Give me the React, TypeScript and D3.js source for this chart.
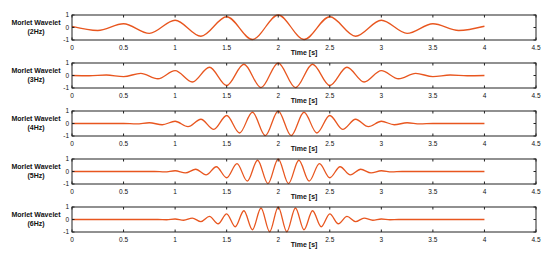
import React, { useRef, useEffect } from "react";
import * as d3 from "d3";

// tick values
const xTicks = [0, 0.5, 1, 1.5, 2, 2.5, 3, 3.5, 4, 4.5];
const yTicks = [-1, 0, 1];
const panelLabels = ["(2Hz)", "(3Hz)", "(4Hz)", "(5Hz)", "(6Hz)"];

// wavelet extrema: [time, amplitude]
const wave2Hz = [
  [0, 0.09], [0.25, -0.24], [0.5, 0.3], [0.75, -0.47], [1, 0.58],
  [1.25, -0.7], [1.5, 0.86], [1.75, -0.96], [2, 1], [2.25, -0.96],
  [2.5, 0.86], [2.75, -0.7], [3, 0.58], [3.25, -0.47], [3.5, 0.3],
  [3.75, -0.24], [4, 0.1],
];
const wave3Hz = [
  [0, 0], [0.167, -0.02], [0.333, 0.04], [0.5, -0.09], [0.667, 0.17],
  [0.833, -0.26], [1, 0.39], [1.167, -0.52], [1.333, 0.66], [1.5, -0.8],
  [1.667, 0.9], [1.833, -0.97], [2, 1], [2.167, -0.97], [2.333, 0.9],
  [2.5, -0.8], [2.667, 0.66], [2.833, -0.52], [3, 0.39], [3.167, -0.26],
  [3.333, 0.17], [3.5, -0.09], [3.667, 0.04], [3.833, -0.02], [4, 0],
];
const wave4Hz = [
  [0, 0], [0.5, 0], [0.625, -0.03], [0.75, 0.06], [0.875, -0.1],
  [1, 0.18], [1.125, -0.25], [1.25, 0.34], [1.375, -0.47], [1.5, 0.64],
  [1.625, -0.76], [1.75, 0.9], [1.875, -0.97], [2, 1], [2.125, -0.97],
  [2.25, 0.9], [2.375, -0.76], [2.5, 0.64], [2.625, -0.47], [2.75, 0.34],
  [2.875, -0.25], [3, 0.18], [3.125, -0.1], [3.25, 0.06], [3.375, -0.03],
  [3.5, 0], [4, 0],
];
const wave5Hz = [
  [0, 0], [0.8, 0], [0.9, -0.03], [1, 0.06], [1.1, -0.11], [1.2, 0.18],
  [1.3, -0.27], [1.4, 0.38], [1.5, -0.5], [1.6, 0.63], [1.7, -0.77],
  [1.8, 0.9], [1.9, -0.97], [2, 1], [2.1, -0.97], [2.2, 0.9], [2.3, -0.77],
  [2.4, 0.63], [2.5, -0.5], [2.6, 0.38], [2.7, -0.27], [2.8, 0.18],
  [2.9, -0.11], [3, 0.06], [3.1, -0.03], [3.2, 0], [4, 0],
];
const wave6Hz = [
  [0, 0], [0.833, 0], [0.917, -0.02], [1, 0.04], [1.083, -0.06],
  [1.167, 0.11], [1.25, -0.17], [1.333, 0.25], [1.417, -0.34], [1.5, 0.45],
  [1.583, -0.58], [1.667, 0.7], [1.75, -0.82], [1.833, 0.92], [1.917, -0.98],
  [2, 1], [2.083, -0.98], [2.167, 0.92], [2.25, -0.82], [2.333, 0.7],
  [2.417, -0.58], [2.5, 0.45], [2.583, -0.34], [2.667, 0.25], [2.75, -0.17],
  [2.833, 0.11], [2.917, -0.06], [3, 0.04], [3.083, -0.02], [3.167, 0],
  [4, 0],
];

const waves = [wave2Hz, wave3Hz, wave4Hz, wave5Hz, wave6Hz];

const App = () => {
  const svgRef = useRef<SVGSVGElement>(null);

  useEffect(() => {
    const svg = d3.select(svgRef.current);
    svg.selectAll("*").remove();

    const font = "'Liberation Sans', Arial, sans-serif";
    const left = 72;
    const right = 536;
    const panelH = 25;
    const panelTop = (i: number) => 15 + i * 48;
    const tickLen = 2.5;

    const x = d3.scaleLinear().domain([0, 4.5]).range([left, right]);

    waves.forEach((wave, i) => {
      const top = panelTop(i);
      const bottom = top + panelH;
      const y = d3.scaleLinear().domain([-1, 1]).range([bottom, top]);
      const g = svg.append("g");

      // curve
      const line = d3
        .line<number[]>()
        .x((d) => x(d[0]))
        .y((d) => y(d[1]))
        .curve(d3.curveMonotoneX);

      g.append("path")
        .datum(wave)
        .attr("fill", "none")
        .attr("stroke", "#E8561F")
        .attr("stroke-width", 1.3)
        .attr("d", line);

      // box
      g.append("rect")
        .attr("x", left)
        .attr("y", top)
        .attr("width", right - left)
        .attr("height", panelH)
        .attr("fill", "none")
        .attr("stroke", "#222")
        .attr("stroke-width", 1);

      // inward ticks top & bottom
      xTicks.forEach((t) => {
        g.append("line")
          .attr("x1", x(t)).attr("x2", x(t))
          .attr("y1", bottom).attr("y2", bottom - tickLen)
          .attr("stroke", "#222");
        g.append("line")
          .attr("x1", x(t)).attr("x2", x(t))
          .attr("y1", top).attr("y2", top + tickLen)
          .attr("stroke", "#222");
      });

      // y ticks left & right
      yTicks.forEach((v) => {
        g.append("line")
          .attr("x1", left).attr("x2", left + tickLen)
          .attr("y1", y(v)).attr("y2", y(v))
          .attr("stroke", "#222");
        g.append("line")
          .attr("x1", right).attr("x2", right - tickLen)
          .attr("y1", y(v)).attr("y2", y(v))
          .attr("stroke", "#222");
      });

      // x tick labels
      g.selectAll(".xt")
        .data(xTicks)
        .enter()
        .append("text")
        .attr("x", (d) => x(d))
        .attr("y", bottom + 9.5)
        .attr("text-anchor", "middle")
        .style("font-family", font)
        .style("font-size", "6.5px")
        .style("fill", "#111")
        .text((d) => String(d));

      // y tick labels
      g.selectAll(".yt")
        .data(yTicks)
        .enter()
        .append("text")
        .attr("x", left - 3)
        .attr("y", (d) => y(d) + 2.3)
        .attr("text-anchor", "end")
        .style("font-family", font)
        .style("font-size", "6.5px")
        .style("fill", "#111")
        .text((d) => String(d));

      // x axis title
      g.append("text")
        .attr("x", (left + right) / 2)
        .attr("y", bottom + 14.5)
        .attr("text-anchor", "middle")
        .style("font-family", font)
        .style("font-size", "7px")
        .style("font-weight", 700)
        .style("fill", "#111")
        .text("Time [s]");

      // panel label
      const lab = g
        .append("text")
        .attr("x", 36)
        .attr("text-anchor", "middle")
        .style("font-family", font)
        .style("font-size", "7px")
        .style("font-weight", 700)
        .style("fill", "#111");
      lab.append("tspan").attr("x", 36).attr("y", top + 9.5).text("Morlet Wavelet");
      lab.append("tspan").attr("x", 36).attr("y", top + 18.5).text(panelLabels[i]);
    });
  }, []);

  return (
    <div style={{ position: "absolute", left: 0, top: 0 }}>
      <svg ref={svgRef} width={550} height={258} style={{ display: "block", background: "white" }} />
    </div>
  );
};

export default App;
